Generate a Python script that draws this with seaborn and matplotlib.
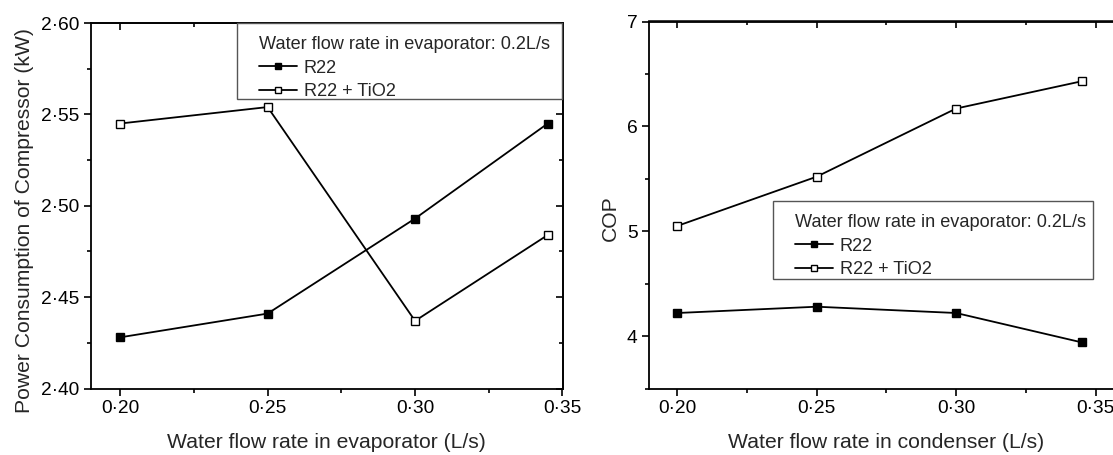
import matplotlib
matplotlib.use("Agg")
import matplotlib.pyplot as plt
import seaborn as sns
import pandas as pd
from matplotlib.patches import Rectangle
from matplotlib.ticker import FixedLocator, FuncFormatter, NullFormatter

# ---- data ----
flow_evap = [0.20, 0.25, 0.30, 0.345]
power_r22 = [2.428, 2.441, 2.493, 2.545]
power_tio2 = [2.545, 2.554, 2.437, 2.484]

flow_cond = [0.20, 0.25, 0.30, 0.345]
cop_r22 = [4.22, 4.28, 4.22, 3.94]
cop_tio2 = [5.05, 5.52, 6.17, 6.43]

series_labels = ["R22", "R22 + TiO2"]
legend_title = "Water flow rate in evaporator: 0.2L/s"
xlabel_left = "Water flow rate in evaporator (L/s)"
ylabel_left = "Power Consumption of Compressor (kW)"
xlabel_right = "Water flow rate in condenser (L/s)"
ylabel_right = "COP"

x_major = [0.20, 0.25, 0.30, 0.35]
x_minor = [0.225, 0.275, 0.325]
yl_major = [2.40, 2.45, 2.50, 2.55, 2.60]
yl_minor = [2.425, 2.475, 2.525, 2.575]
yr_major = [4, 5, 6, 7]
yr_minor = [3.5, 4.5, 5.5, 6.5]

sns.set_style("white")
plt.rcParams["font.family"] = ["Liberation Sans", "DejaVu Sans"]

W, H = 1113, 455
fig = plt.figure(figsize=(W / 100, H / 100), dpi=100)

def px_axes(x0, y0, x1, y1):
    return fig.add_axes([x0 / W, 1 - y1 / H, (x1 - x0) / W, (y1 - y0) / H])

axL = px_axes(90.7, 23, 562.5, 388.5)
axR = px_axes(649.3, 21.5, 1123.5, 388.5)

def dot_fmt(decimals):
    def f(v, pos):
        s = f"{v:.{decimals}f}"
        return s.replace(".", "\u00b7")
    return FuncFormatter(f)

def draw(ax, x, y1, y2):
    df1 = pd.DataFrame({"x": x, "y": y1})
    df2 = pd.DataFrame({"x": x, "y": y2})
    sns.lineplot(data=df1, x="x", y="y", ax=ax, color="black", marker="s",
                 markersize=5.5, markerfacecolor="black", markeredgecolor="black",
                 markeredgewidth=1.0, linewidth=1.3, legend=False)
    sns.lineplot(data=df2, x="x", y="y", ax=ax, color="black", marker="s",
                 markersize=5.5, markerfacecolor="white", markeredgecolor="black",
                 markeredgewidth=1.0, linewidth=1.3, legend=False)

draw(axL, flow_evap, power_r22, power_tio2)
draw(axR, flow_cond, cop_r22, cop_tio2)

def style_axes(ax, xlim, ylim, ymaj, ymin, yfmt, xlabel, ylabel, ylab_y):
    ax.set_xlim(*xlim)
    ax.set_ylim(*ylim)
    ax.xaxis.set_major_locator(FixedLocator(x_major))
    ax.xaxis.set_minor_locator(FixedLocator(x_minor))
    ax.yaxis.set_major_locator(FixedLocator(ymaj))
    ax.yaxis.set_minor_locator(FixedLocator(ymin))
    ax.xaxis.set_major_formatter(dot_fmt(2))
    ax.yaxis.set_major_formatter(yfmt)
    ax.tick_params(axis="both", which="both", direction="out", colors="black",
                   labelsize=13.8, width=1.2, bottom=True, left=True, top=False, right=False)
    ax.tick_params(which="major", length=5)
    ax.tick_params(which="minor", length=3)
    for s in ax.spines.values():
        s.set_visible(True)
        s.set_color("black")
        s.set_linewidth(1.3)
    ax.set_xlabel(xlabel, fontsize=15.2, labelpad=11)
    ax.set_ylabel(ylabel, fontsize=15.2, labelpad=5)
    ax.yaxis.label.set_y(ylab_y)
    # inward ticks on top and right
    sx = ax.secondary_xaxis("top")
    sx.xaxis.set_major_locator(FixedLocator(x_major))
    sx.xaxis.set_minor_locator(FixedLocator(x_minor))
    sx.xaxis.set_major_formatter(NullFormatter())
    sx.tick_params(which="both", direction="in", width=1.2, colors="black")
    sx.tick_params(which="major", length=5)
    sx.tick_params(which="minor", length=3)
    sx.spines["top"].set_linewidth(1.3)
    sy = ax.secondary_yaxis("right")
    sy.yaxis.set_major_locator(FixedLocator(ymaj))
    sy.yaxis.set_minor_locator(FixedLocator(ymin))
    sy.yaxis.set_major_formatter(NullFormatter())
    sy.tick_params(which="both", direction="in", width=1.2, colors="black")
    sy.tick_params(which="major", length=5)
    sy.tick_params(which="minor", length=3)
    sy.spines["right"].set_linewidth(1.3)

style_axes(axL, (0.19, 0.35), (2.40, 2.60), yl_major, yl_minor, dot_fmt(2),
           xlabel_left, ylabel_left, 0.46)
style_axes(axR, (0.19, 0.36), (3.5, 7.0), yr_major, yr_minor,
           FuncFormatter(lambda v, p: f"{v:.0f}"), xlabel_right, ylabel_right, 0.465)

def add_legend(ax, box_px):
    x0, y0, x1, y1 = box_px
    rect = Rectangle((x0 / W, 1 - y1 / H), (x1 - x0) / W, (y1 - y0) / H,
                     transform=fig.transFigure, facecolor="white",
                     edgecolor="#555555", linewidth=1.0, clip_on=False, zorder=4)
    ax.add_patch(rect)
    handles = ax.lines[:2]
    leg = ax.legend(handles, series_labels, title=legend_title,
                    loc="upper left",
                    bbox_to_anchor=((x0 + 22) / W, 1 - (y0 + 13) / H),
                    bbox_transform=fig.transFigure, borderaxespad=0,
                    frameon=False, fontsize=13.1, title_fontsize=13.1,
                    alignment="left", handlelength=2.1, handletextpad=0.35,
                    labelspacing=0.36, borderpad=0, markerscale=0.85)
    leg.set_zorder(5)
    return leg

add_legend(axL, (237, 23, 562, 99))
add_legend(axR, (773, 201, 1093, 279))

fig.savefig("out.png", dpi=100)
